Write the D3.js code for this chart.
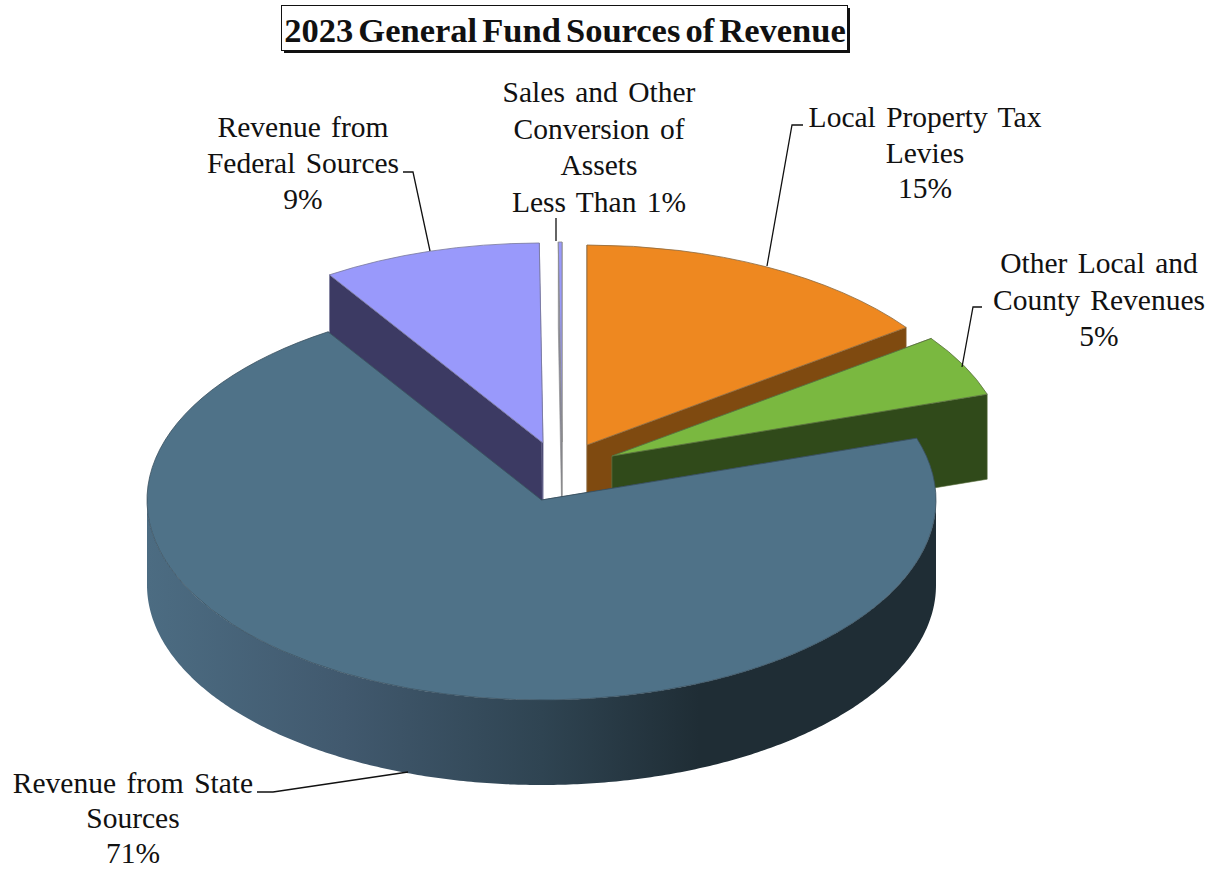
<!DOCTYPE html>
<html>
  <head>
    <meta charset="utf-8">
    <title>2023 General Fund Sources of Revenue</title>
    <script src="https://d3js.org/d3.v7.min.js"></script>
    <style>
      body { margin: 0; background: #fff; }
      text { font-family: "Liberation Serif", serif; fill: #111; }
      .label { font-size: 29.5px; word-spacing: 3px; text-anchor: middle; }
      .title { font-size: 34.5px; font-weight: bold; text-anchor: middle; word-spacing: -3.5px; }
      .leader { fill: none; stroke: #111; stroke-width: 1.3; }
    </style>
  </head>
  <body>
    <div id="graph"></div>

  <script>
    const title_text = "2023 General Fund Sources of Revenue";
    const categories = [
      "Local Property Tax Levies",
      "Other Local and County Revenues",
      "Revenue from State Sources",
      "Revenue from Federal Sources",
      "Sales and Other Conversion of Assets"
    ];
    const values = [15, 5, 70.9, 8.95, 0.15];
    const percent_labels = ["15%", "5%", "71%", "9%", "Less Than 1%"];
    const label_lines = [
      ["Local Property Tax", "Levies"],
      ["Other Local and", "County Revenues"],
      ["Revenue from State", "Sources"],
      ["Revenue from", "Federal Sources"],
      ["Sales and Other", "Conversion of", "Assets"]
    ];

    const top_colors = ["#ee8820", "#7ab840", "#4f7288", "#9999fb", "#9999fb"];
    const wall_colors = ["#7f4a10", "#304a1a", "url(#state_wall)", "#3c3a63", "#8a8a9a"];
    const edge_colors = ["#8a6a40", "#5a7040", "#3a5060", "#77779a", "#888888"];

    const width = 1220;
    const height = 869;
    const cx = 541.5;
    const cy = 500;
    const rx = 394.5;
    const tilt = 0.507;
    const depth = 85;

    // How far each slice is pulled out of the pie
    const explode = [[45.5, -55], [70.5, -44], [0, 0], [1.5, -57], [20.5, -58]];
    // Slices are painted back to front, the big one last
    const paint_order = [3, 4, 0, 1, 2];

    // Label centres and baselines, then the leader line of each label
    const label_x = [925, 1099, 133, 303, 599];
    const label_y = [127, 273, 793, 137, 102];
    const line_height = [35.5, 36.5, 35, 36, 36.6];
    const leaders = [
      [[803, 125], [792, 125], [767, 266]],
      [[982, 307], [973, 307], [962, 367]],
      [[257, 792], [273, 792], [408, 772]],
      [[403, 172], [413, 172], [430, 251]],
      [[556, 218], [556, 241]]
    ];

    let svg = d3.select("#graph").append("svg")
      .attr("width", width)
      .attr("height", height);

    // Side of the big slice goes darker from left to right
    const defs = svg.append("defs");
    const gradient = defs.append("linearGradient")
      .attr("id", "state_wall")
      .attr("gradientUnits", "userSpaceOnUse")
      .attr("x1", cx - rx)
      .attr("x2", cx + rx)
      .attr("y1", 0)
      .attr("y2", 0);
    [[0, "#4c6c82"], [0.25, "#41596e"], [0.5, "#2f4452"], [0.7, "#1f2d35"], [1, "#1f2d35"]].forEach(s => {
      gradient.append("stop").attr("offset", s[0]).attr("stop-color", s[1]);
    });

    const pie = d3.pie().sort(null).startAngle(0).endAngle(2 * Math.PI);
    const slices = pie(values);
    const arc = d3.arc().innerRadius(0).outerRadius(rx);
    const line = d3.line();

    // Point on the rim of a slice, angle clockwise from 12 o'clock
    function rim(angle, offset, r, drop) {
      return [
        cx + offset[0] + r * Math.sin(angle),
        cy + offset[1] - r * tilt * Math.cos(angle) + drop
      ];
    }

    // Flat radial side of a slice, from the centre out to the rim
    function radial_wall(angle, offset) {
      return line([
        rim(angle, offset, 0, 0),
        rim(angle, offset, rx, 0),
        rim(angle, offset, rx, depth),
        rim(angle, offset, 0, depth)
      ]) + "Z";
    }

    // Curved outer side, only the front half of the ellipse shows
    function outer_wall(d, offset) {
      const a0 = Math.max(d.startAngle, Math.PI / 2);
      const a1 = Math.min(d.endAngle, 3 * Math.PI / 2);
      if (a1 <= a0) return null;
      const angles = d3.range(a0, a1, 0.01).concat([a1]);
      const upper = angles.map(a => rim(a, offset, rx, 0));
      const lower = angles.slice().reverse().map(a => rim(a, offset, rx, depth));
      return line(upper.concat(lower)) + "Z";
    }

    const pie_group = svg.append("g");
    paint_order.forEach(i => {
      const d = slices[i];
      const offset = explode[i];
      const g = pie_group.append("g").attr("class", "slice");

      [d.startAngle, d.endAngle].forEach(angle => {
        g.append("path")
          .attr("d", radial_wall(angle, offset))
          .attr("fill", wall_colors[i])
          .attr("stroke", edge_colors[i])
          .attr("stroke-width", 0.6);
      });

      const curved = outer_wall(d, offset);
      if (curved) {
        g.append("path")
          .attr("d", curved)
          .attr("fill", wall_colors[i]);
      }

      g.append("path")
        .attr("d", arc(d))
        .attr("transform", `translate(${cx + offset[0]},${cy + offset[1]}) scale(1,${tilt})`)
        .attr("fill", top_colors[i])
        .attr("stroke", edge_colors[i])
        .attr("stroke-width", 0.8)
        .attr("vector-effect", "non-scaling-stroke");
    });

    // Leader lines
    leaders.forEach(points => {
      svg.append("path")
        .attr("class", "leader")
        .attr("d", line(points));
    });

    // Labels
    categories.forEach((name, i) => {
      const lines = label_lines[i].concat([percent_labels[i]]);
      const label = svg.append("text")
        .attr("class", "label")
        .attr("data-category", name);
      lines.forEach((t, j) => {
        label.append("tspan")
          .attr("x", label_x[i])
          .attr("y", label_y[i] + j * line_height[i])
          .text(t);
      });
    });

    // Boxed title with a hard shadow
    svg.append("rect")
      .attr("x", 284)
      .attr("y", 8)
      .attr("width", 566)
      .attr("height", 45)
      .attr("fill", "#111");
    svg.append("rect")
      .attr("x", 281.5)
      .attr("y", 5.5)
      .attr("width", 566)
      .attr("height", 45)
      .attr("fill", "#fff")
      .attr("stroke", "#111")
      .attr("stroke-width", 1);
    svg.append("text")
      .attr("class", "title")
      .attr("x", 565)
      .attr("y", 42)
      .text(title_text);
  </script>
  </body>
</html>
